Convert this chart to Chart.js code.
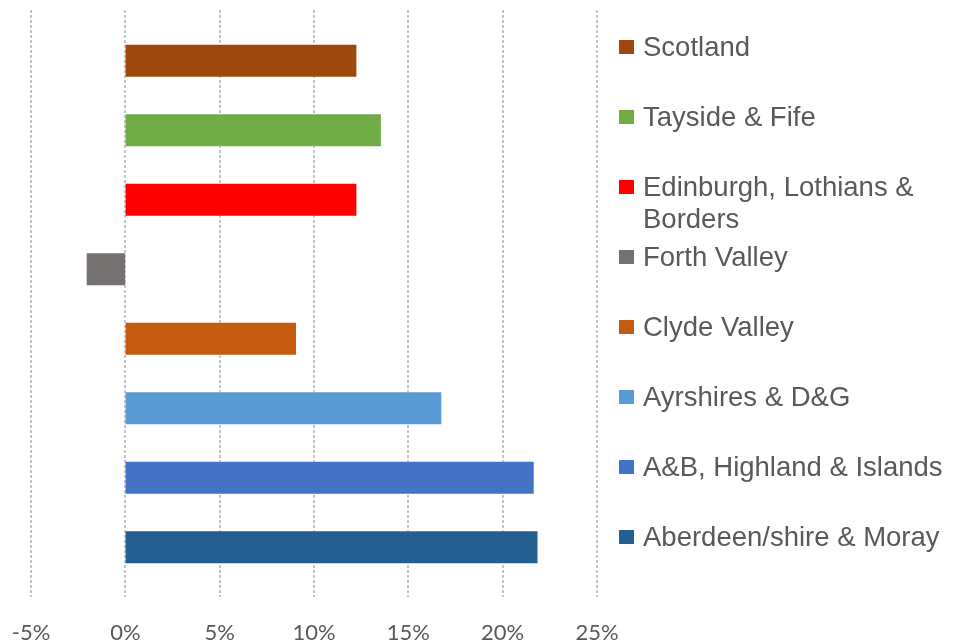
<!DOCTYPE html>
<html>
<head>
<meta charset="utf-8">
<title>Change by region</title>
<script src="https://cdn.jsdelivr.net/npm/chart.js@4.4.1/dist/chart.umd.min.js"></script>
<style>
  html, body { margin: 0; padding: 0; background: #fff; }
  #wrap { position: relative; width: 959px; height: 644px; }
  #chart { position: absolute; left: 0; top: 0; }
  #legend {
    position: absolute; left: 619px; top: 31px; width: 338px;
    margin: 0; padding: 0; list-style: none;
    font-family: "Liberation Sans", Arial, sans-serif; font-size: 27.5px; color: #595959;
  }
  #legend li { position: relative; height: 70px; }
  #legend .box {
    position: absolute; left: 0; top: 9px; width: 15px; height: 14px;
  }
  #legend .txt { position: absolute; left: 24px; top: 0; width: 314px; line-height: 32px; }
</style>
</head>
<body>
<div id="wrap">
  <canvas id="chart" width="959" height="644"></canvas>
  <ul id="legend"></ul>
</div>
<script>
// ------------------ DATA ------------------
const regions = [
    "Scotland",
    "Tayside & Fife",
    "Edinburgh, Lothians & Borders",
    "Forth Valley",
    "Clyde Valley",
    "Ayrshires & D&G",
    "A&B, Highland & Islands",
    "Aberdeen/shire & Moray"
];
const change = [12.3, 13.6, 12.3, -2.1, 9.1, 16.8, 21.7, 21.9]; // percent
const regionColours = [
    "#9E480E", "#70AD47", "#FF0000", "#767171",
    "#C55A11", "#5B9BD5", "#4472C4", "#255E91"
];
const xTicks = [-5, 0, 5, 10, 15, 20, 25];

// ------------------ LEGEND ------------------
const legendEl = document.getElementById('legend');
regions.forEach((name, i) => {
    const li = document.createElement('li');
    li.innerHTML = `<span class="box" style="background:${regionColours[i]}"></span><span class="txt">${name.replace(/&/g, '&amp;')}</span>`;
    legendEl.appendChild(li);
});

// dotted vertical gridlines, a little taller than the bar area
const dottedGrid = {
    id: 'dottedGrid',
    beforeDatasetsDraw(chart) {
        const { ctx, scales: { x } } = chart;
        ctx.save();
        ctx.strokeStyle = '#C4C4C4';
        ctx.lineWidth = 2;
        ctx.setLineDash([3, 2]);
        xTicks.forEach(v => {
            const px = Math.round(x.getPixelForValue(v));
            ctx.beginPath();
            ctx.moveTo(px, 10);
            ctx.lineTo(px, 597);
            ctx.stroke();
        });
        ctx.restore();
    }
};

// ------------------ CHART ------------------
new Chart(document.getElementById('chart'), {
    type: 'bar',
    data: {
        labels: regions,
        datasets: [{
            data: change,
            backgroundColor: regionColours,
            borderColor: 'rgba(255,255,255,0.55)',
            borderWidth: 1,
            barPercentage: 0.49,
            categoryPercentage: 1
        }]
    },
    options: {
        indexAxis: 'y',
        responsive: false,
        animation: false,
        layout: { padding: { left: 31, right: 362, top: 26, bottom: 0 } },
        plugins: { legend: { display: false }, tooltip: { enabled: false } },
        scales: {
            x: {
                min: -5,
                max: 25,
                afterBuildTicks: (axis) => { axis.ticks = xTicks.map(v => ({ value: v })); },
                afterFit: (axis) => {
                    axis.height = 62;
                    axis.paddingLeft = 0;
                    axis.paddingRight = 0;
                },
                grid: { display: false, drawTicks: false },
                border: { display: false },
                ticks: {
                    padding: 40,
                    maxRotation: 0,
                    color: '#595959',
                    font: { family: 'Lato, "Open Sans", sans-serif', size: 22, lineHeight: 1 },
                    callback: (v) => v + '%'
                }
            },
            y: { display: false }
        }
    },
    plugins: [dottedGrid]
});
</script>
</body>
</html>
